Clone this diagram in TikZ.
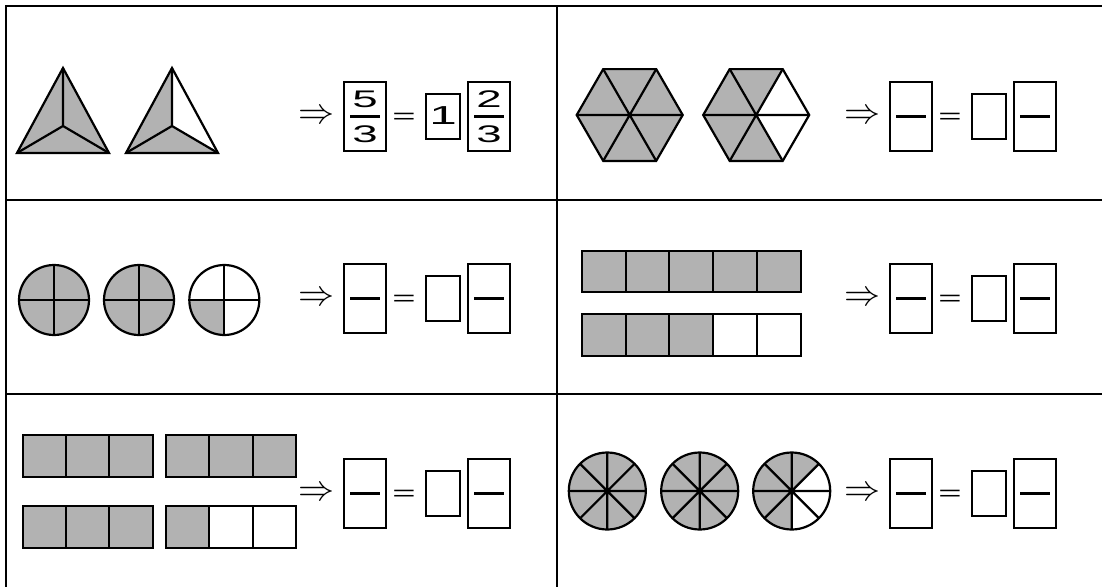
\RequirePackage{fix-cm}
\documentclass[tikz,border=0pt]{standalone}
\usepackage{fontspec}
\setmainfont{Liberation Sans}
\newfontfamily\digitfont[FakeStretch=1.9]{Liberation Sans}
\definecolor{pieceGrey}{RGB}{178,178,178}

\tikzset{
  gridline/.style={line width=2.4pt, line cap=rect},
  outline/.style={draw, line width=2.2pt, line join=miter},
  cell/.style={draw, line width=2pt},
  fracbox/.style={draw, line width=2pt, minimum width=42pt, minimum height=69pt, inner sep=0pt},
  wholebox/.style={draw, line width=2pt, minimum width=34pt, minimum height=45pt, inner sep=0pt},
  fracbar/.style={line width=3pt},
  digit/.style={inner sep=0pt, font=\digitfont\fontsize{24}{24}\selectfont},
  wholedigit/.style={inner sep=0pt, font=\digitfont\fontsize{26}{26}\selectfont},
  eqsign/.style={inner sep=0pt, font=\digitfont\fontsize{21}{21}\selectfont},
  arrowsym/.style={inner sep=0pt, font=\fontsize{36}{36}\selectfont},
}

% arrow, fraction box, equals sign, whole-part box and second fraction box
% #1 horizontal shift of the column, #2 centre line, #3 name prefix
\newcommand\answerline[3]{%
  \node[arrowsym] (#3-arrow) at ({316+#1},{#2+1}) {$\Rightarrow$};
  \node[fracbox] (#3-left) at ({365+#1},#2) {};
  \draw[fracbar] (#3-left.center) ++(-15,0) -- ++(30,0);
  \node[eqsign] (#3-eq) at ({404+#1},{#2+2}) {=};
  \node[wholebox] (#3-whole) at ({443+#1},#2) {};
  \node[fracbox] (#3-right) at ({489+#1},#2) {};
  \draw[fracbar] (#3-right.center) ++(-15,0) -- ++(30,0);
}

\begin{document}
\begin{tikzpicture}[x=1pt, y=-1pt]
\useasboundingbox (0,0) rectangle (1102,586);
\fill[white] (0,0) rectangle (1102,586);

% table rules
\draw[gridline] (6,590) -- (6,6) -- (1106,6);
\draw[gridline] (557,6) -- (557,590);
\draw[gridline] (6,200) -- (1106,200);
\draw[gridline] (6,394) -- (1106,394);

% ---------- row 1, left: two triangles in thirds ----------
\coordinate (t1a) at (63,68);
\coordinate (t1l) at (17,153);
\coordinate (t1r) at (109,153);
\coordinate (t1c) at (63,126);
\fill[pieceGrey] (t1a) -- (t1l) -- (t1r) -- cycle;
\draw[outline] (t1a) -- (t1l) -- (t1r) -- cycle;
\draw[outline] (t1c) -- (t1a) (t1c) -- (t1l) (t1c) -- (t1r);

\coordinate (t2a) at (172,68);
\coordinate (t2l) at (126,153);
\coordinate (t2r) at (218,153);
\coordinate (t2c) at (172,126);
\fill[pieceGrey] (t2a) -- (t2l) -- (t2r) -- cycle;
\fill[white] (t2c) -- (t2a) -- (t2r) -- cycle;
\draw[outline] (t2a) -- (t2l) -- (t2r) -- cycle;
\draw[outline] (t2c) -- (t2a) (t2c) -- (t2l) (t2c) -- (t2r);

\answerline{0}{116}{ra}
\node[digit] (ra-n1) at ([yshift=17pt]ra-left.center) {5};
\node[digit] (ra-d1) at ([yshift=-18pt]ra-left.center) {3};
\node[wholedigit] (ra-w) at (ra-whole.center) {1};
\node[digit] (ra-n2) at ([yshift=17pt]ra-right.center) {2};
\node[digit] (ra-d2) at ([yshift=-18pt]ra-right.center) {3};

% ---------- row 1, right: two hexagons in sixths ----------
\begin{scope}[shift={(629.7,115)}]
  \fill[pieceGrey] (0:53) -- (60:53) -- (120:53) -- (180:53) -- (240:53) -- (300:53) -- cycle;
  \draw[outline] (0:53) -- (60:53) -- (120:53) -- (180:53) -- (240:53) -- (300:53) -- cycle;
  \draw[outline] (0:53) -- (180:53) (60:53) -- (240:53) (120:53) -- (300:53);
\end{scope}
\begin{scope}[shift={(756.2,115)}]
  \fill[pieceGrey] (0:53) -- (60:53) -- (120:53) -- (180:53) -- (240:53) -- (300:53) -- cycle;
  \fill[white] (0,0) -- (300:53) -- (0:53) -- (60:53) -- cycle;
  \draw[outline] (0:53) -- (60:53) -- (120:53) -- (180:53) -- (240:53) -- (300:53) -- cycle;
  \draw[outline] (0:53) -- (180:53) (60:53) -- (240:53) (120:53) -- (300:53);
\end{scope}

\answerline{546}{116}{rb}

% ---------- row 2, left: three circles in quarters ----------
\foreach \cx in {54,139} {
  \begin{scope}[shift={(\cx,300)}]
    \fill[pieceGrey] (0,0) circle[radius=35];
    \draw[outline] (0,0) circle[radius=35];
    \draw[outline] (-35,0) -- (35,0) (0,-35) -- (0,35);
  \end{scope}
}
\begin{scope}[shift={(224.3,300)}]
  \fill[pieceGrey] (0,0) -- (90:35) arc[start angle=90, end angle=180, radius=35] -- cycle;
  \draw[outline] (0,0) circle[radius=35];
  \draw[outline] (-35,0) -- (35,0) (0,-35) -- (0,35);
\end{scope}

\answerline{0}{298}{rc}

% ---------- row 2, right: two bars in fifths ----------
\foreach \i in {0,...,4}
  \draw[cell, fill=pieceGrey] ({581.7+43.8*\i},251) rectangle ++(43.8,41.3);
\foreach \i/\f in {0/pieceGrey,1/pieceGrey,2/pieceGrey,3/white,4/white}
  \draw[cell, fill=\f] ({581.7+43.8*\i},314.3) rectangle ++(43.8,41.3);

\answerline{546}{298}{rd}

% ---------- row 3, left: four bars in thirds ----------
\foreach \x/\y in {22.7/435, 166/435, 22.7/506}
  \foreach \i in {0,1,2}
    \draw[cell, fill=pieceGrey] ({\x+43.33*\i},\y) rectangle ++(43.33,42);
\foreach \i/\f in {0/pieceGrey,1/white,2/white}
  \draw[cell, fill=\f] ({166+43.33*\i},506) rectangle ++(43.33,42);

\answerline{0}{493}{re}

% ---------- row 3, right: three circles in eighths ----------
\foreach \cx in {607.3,699.7} {
  \begin{scope}[shift={(\cx,491)}]
    \fill[pieceGrey] (0,0) circle[radius=38.5];
    \draw[outline] (0,0) circle[radius=38.5];
    \draw[outline] (0:38.5) -- (180:38.5) (45:38.5) -- (225:38.5)
                   (90:38.5) -- (270:38.5) (135:38.5) -- (315:38.5);
  \end{scope}
}
\begin{scope}[shift={(791.7,491)}]
  \fill[pieceGrey] (0,0) -- (90:38.5) arc[start angle=90, end angle=315, radius=38.5] -- cycle;
  \draw[outline] (0,0) circle[radius=38.5];
  \draw[outline] (0:38.5) -- (180:38.5) (45:38.5) -- (225:38.5)
                 (90:38.5) -- (270:38.5) (135:38.5) -- (315:38.5);
\end{scope}

\answerline{546}{493}{rf}
\end{tikzpicture}
\end{document}
